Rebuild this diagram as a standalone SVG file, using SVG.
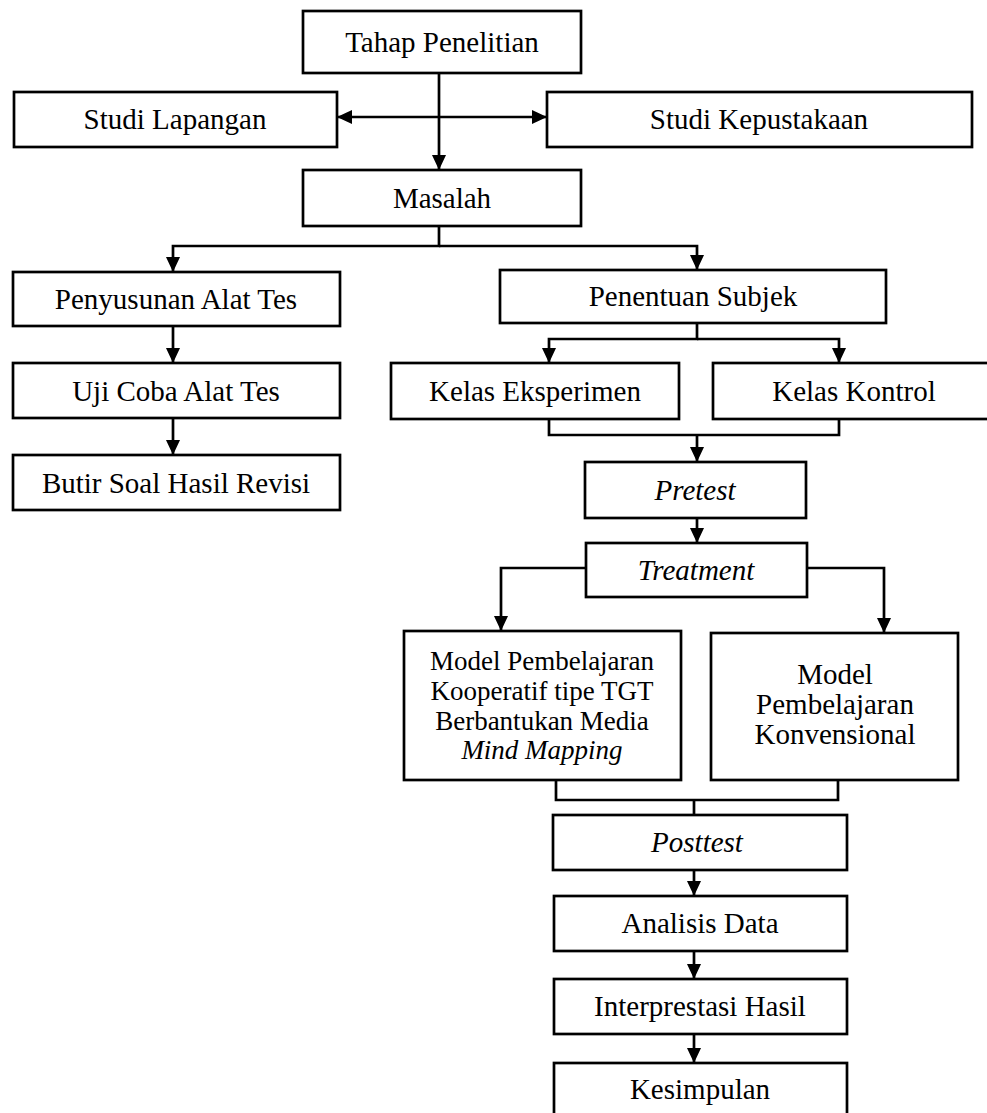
<svg xmlns="http://www.w3.org/2000/svg" width="987" height="1113" viewBox="0 0 987 1113">
<style>
.b{fill:#fff;stroke:#000;stroke-width:2.7}
.t{font-family:"Liberation Serif","Times New Roman",serif;font-size:29px;fill:#000;text-anchor:middle}
.s{font-size:27px}
.i{font-style:italic}
.c{fill:none;stroke:#000;stroke-width:2.7}
</style>
<defs>
<marker id="a" viewBox="0 0 15 14" refX="15" refY="7" markerWidth="15" markerHeight="14" orient="auto" markerUnits="userSpaceOnUse">
<path d="M0,0 L15,7 L0,14 Z" fill="#000"/>
</marker>
</defs>
<rect width="987" height="1113" fill="#fff"/>
<g id="connectors">
<path class="c" d="M439,73 V170" marker-end="url(#a)"/>
<path class="c" d="M439,117 H337" marker-end="url(#a)"/>
<path class="c" d="M439,117 H547" marker-end="url(#a)"/>
<path class="c" d="M439,226 V246 H173 V272" marker-end="url(#a)"/>
<path class="c" d="M439,246 H697 V270" marker-end="url(#a)"/>
<path class="c" d="M173,326 V363" marker-end="url(#a)"/>
<path class="c" d="M173,418 V455" marker-end="url(#a)"/>
<path class="c" d="M697,323 V339 H549 V363" marker-end="url(#a)"/>
<path class="c" d="M697,339 H839 V363" marker-end="url(#a)"/>
<path class="c" d="M549,419 V435 H839 V419"/>
<path class="c" d="M697,435 V462" marker-end="url(#a)"/>
<path class="c" d="M697,518 V543" marker-end="url(#a)"/>
<path class="c" d="M586,568 H501 V631" marker-end="url(#a)"/>
<path class="c" d="M807,568 H884 V633" marker-end="url(#a)"/>
<path class="c" d="M556,780 V800 H838 V780"/>
<path class="c" d="M694,800 V815"/>
<path class="c" d="M694,870 V896" marker-end="url(#a)"/>
<path class="c" d="M694,951 V979" marker-end="url(#a)"/>
<path class="c" d="M694,1034 V1063" marker-end="url(#a)"/>
</g>
<g id="tahap"><rect class="b" x="303" y="11" width="278" height="62"/><text class="t" x="442" y="52">Tahap Penelitian</text></g>
<g id="lapangan"><rect class="b" x="14" y="92" width="323" height="55"/><text class="t" x="175" y="129">Studi Lapangan</text></g>
<g id="kepustakaan"><rect class="b" x="547" y="92" width="425" height="55"/><text class="t" x="759" y="129">Studi Kepustakaan</text></g>
<g id="masalah"><rect class="b" x="303" y="170" width="278" height="56"/><text class="t" x="442" y="208">Masalah</text></g>
<g id="penyusunan"><rect class="b" x="13" y="272" width="327" height="54"/><text class="t" x="176" y="309">Penyusunan Alat Tes</text></g>
<g id="ujicoba"><rect class="b" x="13" y="363" width="327" height="55"/><text class="t" x="176" y="401">Uji Coba Alat Tes</text></g>
<g id="butir"><rect class="b" x="13" y="455" width="327" height="55"/><text class="t" x="176" y="493">Butir Soal Hasil Revisi</text></g>
<g id="penentuan"><rect class="b" x="500" y="270" width="386" height="53"/><text class="t" x="693" y="306">Penentuan Subjek</text></g>
<g id="eksperimen"><rect class="b" x="391" y="363" width="288" height="56"/><text class="t" x="535" y="401">Kelas Eksperimen</text></g>
<g id="kontrol"><rect class="b" x="713" y="363" width="284" height="56"/><text class="t" x="854" y="401">Kelas Kontrol</text></g>
<g id="pretest"><rect class="b" x="585" y="462" width="221" height="56"/><text class="t i" x="695" y="500">Pretest</text></g>
<g id="treatment"><rect class="b" x="586" y="543" width="221" height="54"/><text class="t i" x="696" y="580">Treatment</text></g>
<g id="model1"><rect class="b" x="404" y="631" width="277" height="149"/>
<text class="t s" x="542" y="670">Model Pembelajaran</text>
<text class="t s" x="542" y="700">Kooperatif tipe TGT</text>
<text class="t s" x="542" y="730">Berbantukan Media</text>
<text class="t s i" x="542" y="759">Mind Mapping</text></g>
<g id="model2"><rect class="b" x="711" y="633" width="247" height="147"/>
<text class="t" x="835" y="684">Model</text>
<text class="t" x="835" y="714">Pembelajaran</text>
<text class="t" x="835" y="744">Konvensional</text></g>
<g id="posttest"><rect class="b" x="553" y="815" width="294" height="55"/><text class="t i" x="697" y="852">Posttest</text></g>
<g id="analisis"><rect class="b" x="554" y="896" width="293" height="55"/><text class="t" x="700" y="933">Analisis Data</text></g>
<g id="interprestasi"><rect class="b" x="554" y="979" width="293" height="55"/><text class="t" x="700" y="1016">Interprestasi Hasil</text></g>
<g id="kesimpulan"><rect class="b" x="554" y="1063" width="293" height="70"/><text class="t" x="700" y="1099">Kesimpulan</text></g>
</svg>
